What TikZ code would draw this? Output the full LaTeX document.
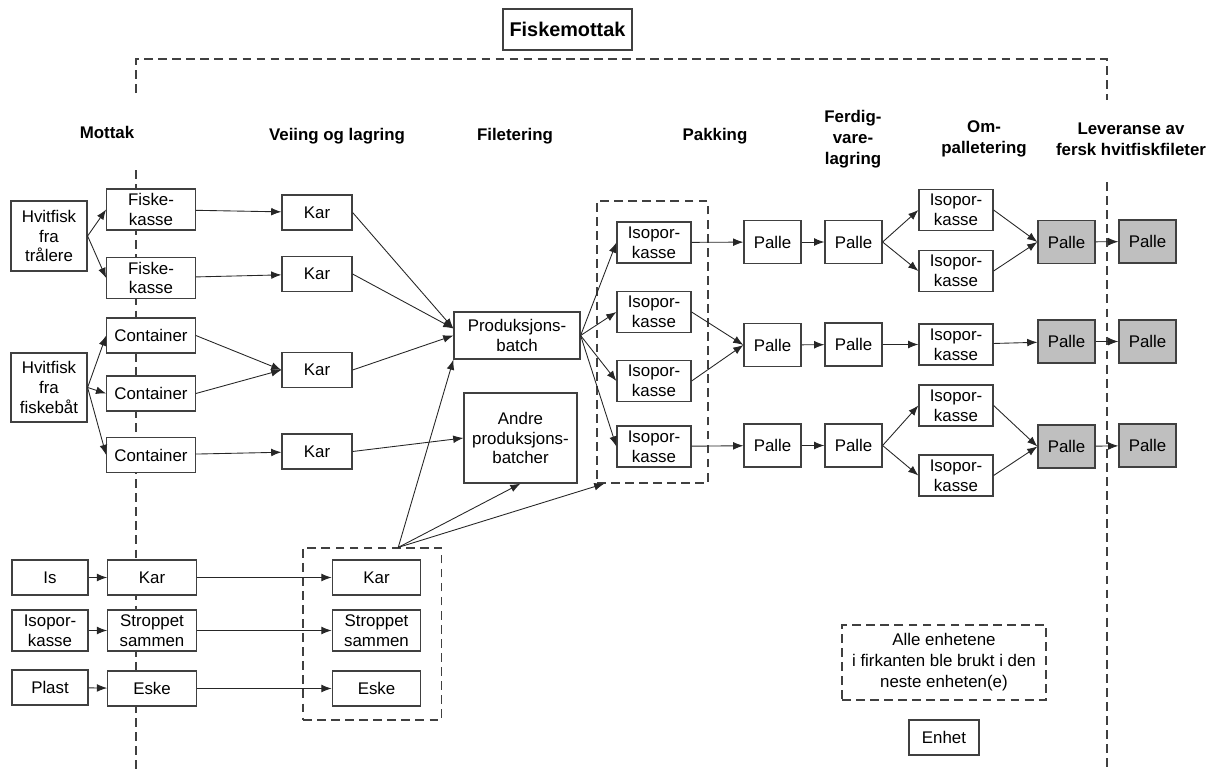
\documentclass[tikz,border=0pt]{standalone}
\usepackage{fontspec}
\setmainfont{Liberation Sans}
\usetikzlibrary{arrows.meta}

\tikzset{
  unit/.style={draw=black!75, fill=white, line width=0.7pt, inner sep=0pt, align=center,
    font=\fontsize{9.6}{11.3}\selectfont},
  src/.style={unit, minimum width=1.52cm},
  rcv/.style={unit, minimum width=1.77cm},
  kar/.style={unit, minimum width=1.4cm},
  iso/.style={unit, minimum width=1.48cm, minimum height=0.82cm},
  palle/.style={unit, minimum width=1.14cm, minimum height=0.86cm},
  done/.style={palle, fill=black!25},
  one/.style={minimum height=0.7cm},
  two/.style={minimum height=0.82cm},
  hdr/.style={font=\fontsize{9.6}{12}\selectfont\bfseries, align=center},
  grp/.style={draw=black!75, line width=0.7pt, dash pattern=on 5pt off 3pt, inner sep=0pt},
  flow/.style={-{Latex[length=5.8pt,width=4.4pt]}, line width=0.5pt, black!85},
}

\begin{document}
\begin{tikzpicture}[x=0.02cm, y=-0.02cm]
\useasboundingbox (0,0) rectangle (1215,771);

\node[unit, font=\fontsize{11.3}{13}\selectfont\bfseries, minimum width=2.58cm, minimum height=0.82cm] (title) at (567.5,29.5) {Fiskemottak};
% frame
\draw[grp] (136,93) -- (136,59) -- (1107,59) -- (1107,100);
\draw[grp] (136,170) -- (136,771);
\draw[grp] (1107,182) -- (1107,771);

% headers
\node[hdr] (hMot) at (107,132) {Mottak};
\node[hdr] (hVei) at (337,136) {Veiing og lagring};
\node[hdr] (hFil) at (515,136) {Filetering};
\node[hdr] (hPak) at (715,136) {Pakking};
\node[hdr] (hFer) at (853,139) {Ferdig-\\vare-\\lagring};
\node[hdr] (hOmp) at (984,139) {Om-\\palletering};
\node[hdr] (hLev) at (1131,139) {Leveranse av\\fersk hvitfiskfileter};

% mottak
\node[src, minimum height=1.4cm] (traal) at (49,236) {Hvitfisk\\fra\\trålere};
\node[rcv, two] (fk1) at (151,209.5) {Fiske-\\kasse};
\node[rcv, two] (fk2) at (151,278) {Fiske-\\kasse};
\node[src, minimum height=1.38cm] (baat) at (49,387.5) {Hvitfisk\\fra\\fiskebåt};
\node[rcv, one] (ct1) at (151,335.5) {Container};
\node[rcv, one] (ct2) at (151,393.5) {Container};
\node[rcv, one] (ct3) at (151,455) {Container};

% veiing og lagring
\node[kar, one] (kar1) at (317,212.5) {Kar};
\node[kar, one] (kar2) at (317,274) {Kar};
\node[kar, one] (kar3) at (317,370) {Kar};
\node[kar, one] (kar4) at (317,451.5) {Kar};

% filetering
\node[unit, minimum width=2.52cm, minimum height=0.94cm] (batch) at (517,335.5) {Produksjons-\\batch};
\node[unit, minimum width=2.26cm, minimum height=1.8cm] (andre) at (520.5,438) {Andre\\produksjons-\\batcher};

% pakking
\node[grp, minimum width=2.22cm, minimum height=5.64cm] (pak) at (652.5,342) {};
\node[iso] (ip1) at (654,242.5) {Isopor-\\kasse};
\node[iso] (ip2) at (654,312) {Isopor-\\kasse};
\node[iso] (ip3) at (654,381) {Isopor-\\kasse};
\node[iso] (ip4) at (654,446.5) {Isopor-\\kasse};

% ferdigvarelagring
\node[palle] (pa1) at (772.5,242) {Palle};
\node[palle] (pa2) at (772.5,345) {Palle};
\node[palle] (pa3) at (772.5,445.5) {Palle};
\node[palle] (pb1) at (853.5,242) {Palle};
\node[palle] (pb2) at (853.5,344.5) {Palle};
\node[palle] (pb3) at (853.5,445.5) {Palle};

% ompalletering
\node[iso] (io1) at (956,210) {Isopor-\\kasse};
\node[iso] (io2) at (956,271) {Isopor-\\kasse};
\node[iso] (io3) at (956,344.5) {Isopor-\\kasse};
\node[iso] (io4) at (956,405.5) {Isopor-\\kasse};
\node[iso] (io5) at (956,475.5) {Isopor-\\kasse};

% leveranse
\node[done] (pc1) at (1066.5,242) {Palle};
\node[done] (pc2) at (1066.5,341.5) {Palle};
\node[done] (pc3) at (1066.5,446.5) {Palle};
\node[done] (pd1) at (1147.5,241.5) {Palle};
\node[done] (pd2) at (1147.5,341.5) {Palle};
\node[done] (pd3) at (1147.5,445.5) {Palle};

% emballasje
\node[src, one] (is) at (50,577.5) {Is};
\node[src, two] (isop) at (50,630.5) {Isopor-\\kasse};
\node[src, one] (plast) at (50,687.5) {Plast};
\node[rcv, one] (karm) at (152,577.5) {Kar};
\node[rcv, two] (strm) at (152,630.5) {Stroppet\\sammen};
\node[rcv, one] (eskm) at (152,688.5) {Eske};
\node[grp, minimum width=2.77cm, minimum height=3.44cm] (brukt) at (372.25,634) {};
\node[rcv, one] (karb) at (376.5,577.5) {Kar};
\node[rcv, two] (strb) at (376.5,630.5) {Stroppet\\sammen};
\node[rcv, one] (eskb) at (376.5,688.5) {Eske};

% legend
\node[grp, minimum width=4.08cm, minimum height=1.5cm, align=center,
  font=\fontsize{9.6}{11.9}\selectfont] (legend) at (944,662.5) {Alle enhetene\\i firkanten ble brukt i den\\neste enheten(e)};
\node[unit, minimum width=1.4cm, minimum height=0.7cm] (enhet) at (944,737.5) {Enhet};

% connectors
\draw[flow] (traal.east) -- (fk1.west);
\draw[flow] (traal.east) -- (fk2.west);
\draw[flow] (fk1) -- (kar1);
\draw[flow] (fk2) -- (kar2);
\draw[flow] (kar1.east) -- ([yshift=4pt]batch.west);
\draw[flow] (kar2.east) -- ([yshift=4pt]batch.west);
\foreach \c in {ct1,ct2,ct3}
  \draw[flow] (baat.east) -- (\c.west);
\draw[flow] (ct1.east) -- (kar3.west);
\draw[flow] (ct2.east) -- (kar3.west);
\draw[flow] (kar3.east) -- (batch.west);
\draw[flow] (ct3) -- (kar4);
\draw[flow] (kar4.east) -- (andre.west);
\foreach \i in {ip1,ip2,ip3,ip4}
  \draw[flow] (batch.east) -- (\i.west);
\draw[flow] (ip1) -- (pa1);
\draw[flow] (ip2.east) -- (pa2.west);
\draw[flow] (ip3.east) -- (pa2.west);
\draw[flow] (ip4) -- (pa3);
\foreach \r in {1,2,3}{
  \draw[flow] (pa\r) -- (pb\r);
  \draw[flow] (pc\r) -- (pd\r);
}
\draw[flow] (pb1.east) -- (io1.west);
\draw[flow] (pb1.east) -- (io2.west);
\draw[flow] (io1.east) -- (pc1.west);
\draw[flow] (io2.east) -- (pc1.west);
\draw[flow] (pb2) -- (io3);
\draw[flow] (io3) -- (pc2);
\draw[flow] (pb3.east) -- (io4.west);
\draw[flow] (pb3.east) -- (io5.west);
\draw[flow] (io4.east) -- (pc3.west);
\draw[flow] (io5.east) -- (pc3.west);
\draw[flow] (is) -- (karm);
\draw[flow] (isop) -- (strm);
\draw[flow] (plast) -- (eskm);
\draw[flow] (karm) -- (karb);
\draw[flow] (strm) -- (strb);
\draw[flow] (eskm) -- (eskb);
\draw[flow] ([xshift=0.52cm]brukt.north) -- (batch.south west);
\draw[flow] ([xshift=0.52cm]brukt.north) -- (andre.south);
\draw[flow] ([xshift=0.52cm]brukt.north) -- ([xshift=0.16cm]pak.south west);
\end{tikzpicture}
\end{document}
